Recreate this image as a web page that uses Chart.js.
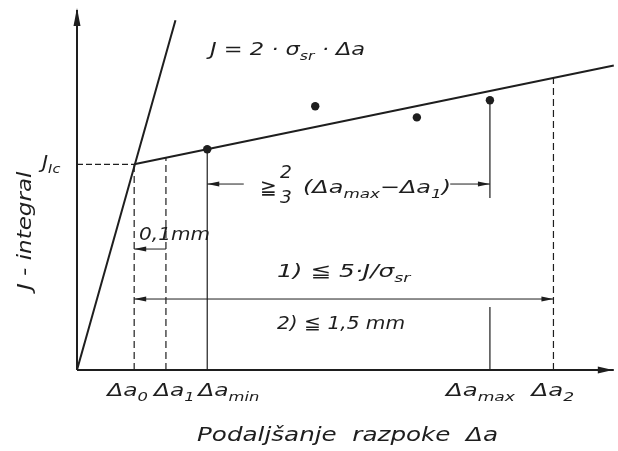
<!DOCTYPE html>
<html lang="sl">
<head>
<meta charset="UTF-8" />
<title>J-integral – podaljšanje razpoke</title>
<style>
  html, body { margin: 0; padding: 0; background: #fff; }
  canvas { display: block; }
</style>
</head>
<body>
<canvas id="jChart" width="618" height="451"></canvas>
<script src="https://cdn.jsdelivr.net/npm/chart.js"></script>
<script>
// merilne točke: podaljšanje razpoke (mm) in J
const crackExt = [0.41, 0.75, 1.07, 1.30];
const jValues = [107.3, 128.2, 122.8, 131.1];

// karakteristične vrednosti na osi Δa in višine navpičnic
const tickMain = ['Δa', 'Δa', 'Δa', 'Δa', 'Δa'];
const tickSub = ['0', '1', 'min', 'max', '2'];
const tickValues = [0.18, 0.28, 0.41, 1.30, 1.50];
const tickTops = [100, 103.2, 107.3, 131.1, 142];
const JIc = 100;

// premica otopitve J = 2·σsr·Δa in regresijska premica
const bluntX = [0, 0.31];
const bluntJ = [0, 170];
const fitX = [0.18, 1.69];
const fitJ = [100, 148];

// višine kotnih mer
const dimTwoThirds = 90.4;
const dimTenth = 58.8;
const dimLimit = 34.5;

const X_MAX = 1.69;
const Y_MAX = 175;

const INK = '#1e1e1e';
const FONT = '"DejaVu Sans"';

function seg(xs, ys, extra) {
  return Object.assign({
    data: xs.map((x, i) => ({ x: x, y: ys[i] })),
    showLine: true,
    pointRadius: 0,
    borderColor: INK,
    borderWidth: 1.2,
    clip: false,
    spanGaps: false
  }, extra || {});
}

const dash = { borderDash: [7, 4] };

const datasets = [
  seg([0, X_MAX], [0, 0], { borderWidth: 2 }),
  seg([0, 0], [0, Y_MAX], { borderWidth: 2 }),
  seg(bluntX, bluntJ, { borderWidth: 2 }),
  seg(fitX, fitJ, { borderWidth: 2 }),
  seg([0, tickValues[0]], [JIc, JIc], { borderDash: [6, 3] }),
  seg([tickValues[0], tickValues[0]], [0, tickTops[0]], dash),
  seg([tickValues[1], tickValues[1]], [0, tickTops[1]], dash),
  seg([tickValues[2], tickValues[2]], [0, tickTops[2]]),
  seg([tickValues[3], tickValues[3], tickValues[3], tickValues[3], tickValues[3]],
      [tickTops[3], 83.6, null, 30.6, 0]),
  seg([tickValues[4], tickValues[4]], [0, tickTops[4]], dash),
  // kotne mere
  seg([tickValues[2], 0.525], [dimTwoThirds, dimTwoThirds], { borderWidth: 1 }),
  seg([1.175, tickValues[3]], [dimTwoThirds, dimTwoThirds], { borderWidth: 1 }),
  seg([tickValues[0], tickValues[1]], [dimTenth, dimTenth], { borderWidth: 1 }),
  seg([tickValues[0], tickValues[4]], [dimLimit, dimLimit], { borderWidth: 1 }),
  {
    data: crackExt.map((x, i) => ({ x: x, y: jValues[i] })),
    showLine: false,
    pointRadius: 4.2,
    pointBackgroundColor: INK,
    pointBorderWidth: 0,
    clip: false
  }
];

// besedilo v razširjeni poševni pisavi, indeksi manjši in nižje
function drawRuns(ctx, x, y, runs, size, sx) {
  ctx.save();
  ctx.translate(x, y);
  ctx.scale(sx || 1.25, 1);
  let cx = 0;
  for (const [t, sub] of runs) {
    const s = sub ? size * 0.7 : size;
    ctx.font = 'italic ' + s + 'px ' + FONT;
    ctx.fillText(t, cx, sub ? size * 0.25 : 0);
    cx += ctx.measureText(t).width;
  }
  ctx.restore();
}

function head(ctx, x, y, dx, dy, len, half) {
  ctx.beginPath();
  ctx.moveTo(x, y);
  ctx.lineTo(x - dx * len - dy * half, y - dy * len - dx * half);
  ctx.lineTo(x - dx * len + dy * half, y - dy * len + dx * half);
  ctx.closePath();
  ctx.fill();
}

const annotations = {
  id: 'annotations',
  afterDatasetsDraw(chart) {
    const ctx = chart.ctx;
    const xs = chart.scales.x, ys = chart.scales.y;
    const px = v => xs.getPixelForValue(v);
    const py = v => ys.getPixelForValue(v);
    ctx.save();
    ctx.fillStyle = INK;

    // puščici osi
    head(ctx, px(0), py(Y_MAX) - 2, 0, -1, 18, 3.5);
    head(ctx, px(X_MAX) - 1, py(0), 1, 0, 15, 3.5);

    // puščice kotnih mer
    head(ctx, px(tickValues[2]), py(dimTwoThirds), -1, 0, 12, 2.5);
    head(ctx, px(tickValues[3]), py(dimTwoThirds), 1, 0, 12, 2.5);
    head(ctx, px(tickValues[0]), py(dimTenth), -1, 0, 12, 2.5);
    head(ctx, px(tickValues[0]), py(dimLimit), -1, 0, 12, 2.5);
    head(ctx, px(tickValues[4]), py(dimLimit), 1, 0, 12, 2.5);

    ctx.textBaseline = 'alphabetic';
    ctx.textAlign = 'left';

    // oznake na osi Δa
    const tickShift = [-27, -12, -9, -44, -22];
    const tickScale = [1.3, 1.3, 1.3, 1.36, 1.36];
    tickValues.forEach((v, i) => {
      drawRuns(ctx, px(v) + tickShift[i], 396, [[tickMain[i], false], [tickSub[i], true]], 18, tickScale[i]);
    });

    drawRuns(ctx, 210, 55, [['J = 2 · σ', false], ['sr', true], [' · Δa', false]], 18, 1.25);
    drawRuns(ctx, 42, 168, [['J', false], ['Ic', true]], 18, 1.15);
    drawRuns(ctx, 139, 240, [['0,1mm', false]], 17, 1.18);

    drawRuns(ctx, 260, 194, [['≧', false]], 20, 1);
    drawRuns(ctx, 280, 178, [['2', false]], 17, 1.1);
    drawRuns(ctx, 280, 203, [['3', false]], 17, 1.1);
    drawRuns(ctx, 303, 193, [['(Δa', false], ['max', true], ['−Δa', false], ['1', true], [')', false]], 18, 1.33);

    drawRuns(ctx, 277, 277, [['1) ≦ 5·J/σ', false], ['sr', true]], 18, 1.38);
    drawRuns(ctx, 277, 329, [['2) ≦ 1,5 mm', false]], 18, 1.12);

    // naslova osi
    drawRuns(ctx, 197, 441, [['Podaljšanje  razpoke  Δa', false]], 20, 1.23);

    ctx.translate(31, 290);
    ctx.rotate(-Math.PI / 2);
    drawRuns(ctx, 0, 0, [['J - integral', false]], 20, 1.15);
    ctx.restore();
  }
};

new Chart(document.getElementById('jChart').getContext('2d'), {
  type: 'scatter',
  data: { datasets: datasets },
  options: {
    animation: false,
    responsive: false,
    layout: { padding: { left: 77, right: 0, top: 10, bottom: 81 } },
    plugins: { legend: { display: false }, tooltip: { enabled: false } },
    scales: {
      x: { type: 'linear', min: 0, max: X_MAX, display: false },
      y: { type: 'linear', min: 0, max: Y_MAX, display: false }
    }
  },
  plugins: [annotations]
});
</script>
</body>
</html>
